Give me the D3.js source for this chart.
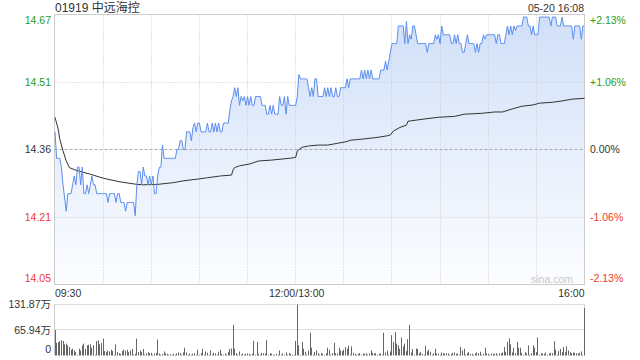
<!DOCTYPE html>
<html><head><meta charset="utf-8">
<script src="https://cdn.jsdelivr.net/npm/d3@7"></script>
<style>
body{margin:0;background:#fff}
svg{display:block}
text{font-family:"Liberation Sans",Arial,"Noto Sans CJK SC",sans-serif}
</style>
</head><body>
<svg id="c" width="640" height="360"></svg>
<script>
const titleText = "01919 中远海控";
const stampText = "05-20 16:08";
const watermark = "sina.com";
const prevClose = 14.36;
const pctRange = 2.13;
const priceTickLabels = ["14.67", "14.51", "14.36", "14.21", "14.05"];
const pctTickLabels = ["+2.13%", "+1.06%", "0.00%", "-1.06%", "-2.13%"];
const pctTickLevels = [2.13, 1.065, 0, -1.065, -2.13];
const timeLabels = ["09:30", "12:00/13:00", "16:00"];
const timeLabelMinutes = [0, 150, 330];
const gridMinutes = [30, 60, 90, 120, 150, 180, 210, 240, 270, 300];
const volTickLabels = ["131.87万", "65.94万", "0"];
const volTickValues = [131.87, 65.94, 0];

// last price per minute, 09:30 .. 16:00 (331 points)
const priceValues = [
14.40,14.34,14.34,14.34,14.32,14.28,14.25,14.22,14.26,14.26,
14.26,14.28,14.30,14.28,14.32,14.32,14.28,14.32,14.26,14.26,
14.28,14.26,14.28,14.30,14.28,14.28,14.26,14.26,14.26,14.26,
14.26,14.26,14.26,14.24,14.26,14.26,14.26,14.26,14.24,14.26,
14.26,14.24,14.24,14.24,14.22,14.24,14.24,14.24,14.24,14.24,
14.21,14.28,14.31,14.31,14.28,14.32,14.30,14.30,14.28,14.30,
14.28,14.30,14.26,14.26,14.30,14.32,14.32,14.37,14.34,14.34,
14.34,14.34,14.34,14.34,14.34,14.34,14.36,14.36,14.38,14.38,
14.36,14.36,14.40,14.40,14.40,14.38,14.41,14.42,14.40,14.42,
14.42,14.40,14.40,14.40,14.40,14.42,14.40,14.40,14.42,14.40,
14.42,14.40,14.42,14.40,14.40,14.42,14.42,14.42,14.42,14.45,
14.47,14.48,14.50,14.48,14.50,14.46,14.48,14.47,14.48,14.46,
14.48,14.46,14.48,14.46,14.46,14.48,14.48,14.48,14.48,14.46,
14.46,14.46,14.44,14.44,14.46,14.44,14.46,14.44,14.44,14.44,
14.48,14.46,14.46,14.48,14.44,14.48,14.46,14.46,14.46,14.46,
14.46,14.48,14.53,14.52,14.52,14.52,14.52,14.52,14.50,14.48,
14.50,14.48,14.52,14.52,14.48,14.48,14.48,14.48,14.50,14.48,
14.50,14.48,14.50,14.48,14.48,14.50,14.48,14.48,14.50,14.50,
14.50,14.50,14.52,14.50,14.52,14.52,14.52,14.52,14.52,14.52,
14.52,14.54,14.52,14.54,14.52,14.54,14.52,14.54,14.52,14.52,
14.52,14.52,14.52,14.54,14.54,14.54,14.56,14.54,14.56,14.58,
14.60,14.60,14.60,14.60,14.64,14.64,14.64,14.64,14.60,14.65,
14.60,14.62,14.61,14.64,14.64,14.62,14.60,14.60,14.60,14.60,
14.60,14.60,14.58,14.60,14.60,14.60,14.60,14.62,14.61,14.62,
14.60,14.64,14.62,14.62,14.62,14.62,14.62,14.60,14.60,14.62,
14.60,14.62,14.60,14.60,14.58,14.58,14.60,14.62,14.60,14.60,
14.60,14.60,14.58,14.60,14.58,14.60,14.60,14.62,14.61,14.62,
14.62,14.62,14.62,14.62,14.62,14.60,14.62,14.62,14.60,14.60,
14.60,14.62,14.64,14.62,14.64,14.62,14.64,14.63,14.64,14.64,
14.64,14.64,14.66,14.66,14.66,14.64,14.64,14.62,14.64,14.62,
14.62,14.62,14.66,14.66,14.66,14.66,14.66,14.66,14.66,14.64,
14.66,14.66,14.66,14.64,14.64,14.64,14.66,14.64,14.64,14.64,
14.64,14.64,14.64,14.61,14.64,14.64,14.64,14.64,14.61,14.64,
14.64
];

// average price line, read at these minutes
const avgMinutes = [0,2,3,5,7,9,13,22,30,40,51,55,64,74,80,89,95,103,110,111,112,115,121,127,135,146,150,151,154,158,164,170,176,182,184,190,200,207,209,211,215,219,220,222,230,239,249,255,266,274,279,285,291,298,302,310,316,322,330];
const avgValues = [14.433,14.406,14.383,14.357,14.334,14.319,14.313,14.304,14.295,14.287,14.281,14.280,14.281,14.285,14.289,14.293,14.296,14.300,14.302,14.314,14.319,14.323,14.327,14.334,14.336,14.340,14.342,14.357,14.365,14.368,14.370,14.370,14.374,14.378,14.381,14.383,14.387,14.391,14.393,14.402,14.410,14.415,14.424,14.425,14.429,14.433,14.435,14.440,14.442,14.445,14.445,14.452,14.458,14.461,14.465,14.467,14.470,14.474,14.476];

// volume per minute, 万 shares
const volumeValues = [
65.8,32.5,34,36.8,39.5,37.7,29,30.7,26.3,22,
15,17.5,13,8.8,2,17.5,13,26.3,30.7,16.7,
26.3,28,29,20,26.3,2,37.7,39.5,29,32.5,
43.9,11.4,8.8,13,10.5,15,11.4,2,29,8.8,
6,4.4,11.4,15,13,15,8.8,13,16.7,2,
4.4,43.9,8.8,13,8.8,16.7,2,6,8.8,6,
7,2,5.3,7,41.2,5.3,2,4.4,10.5,5.3,
4.4,2,3.5,2,4.4,2,5.3,7.9,6,2,
7.9,20,7.9,2,5.3,2,4.4,6,2,15,
2,6,17.5,2,10.5,7,2,13,2,7,
5.3,2,9.6,15,4.4,2,5.3,2,8.8,16.7,
18.4,79,17.5,6,2,10.5,2,5.3,2,4.4,
5.3,4.4,2,4.4,37.7,2,35.1,4.4,2,7,
6,5.3,39.5,2,6,4.4,2,2,4.4,2,
13,2,5.3,2,7.9,2,6,4.4,2,2,
37.7,131.87,26.3,2,35.1,17.5,9.6,2,13,58.8,
20,2,8.8,13,6,2,6,4.4,2,6,
20,15,2,6,32.5,6,5.3,20,13,11.4,
15,22,17.5,25.4,2,23.7,7,4.4,2,4.4,
6,2,5.3,4.4,6,2,5.3,13,7,5.3,
6,2,4.4,5.3,2,58.8,7.9,13,2,10.5,
52.6,35.1,60.5,30.7,26.3,17.5,46.5,23.7,30.7,11.4,
42.1,79,7.9,16.7,2,18.4,16.7,6,8.8,4.4,
2,25.4,10.5,15,9.6,2,6,17.5,5.3,4.4,
2,7.9,6,4.4,6,5.3,2,4.4,7,7.9,
4.4,5.3,2,22,13,17.5,2,6,8.8,4.4,
4.4,2,5.3,7.9,6,9.6,2,4.4,20,5.3,
4.4,2,5.3,4.4,4.4,6,2,6,5.3,7.9,
22,8.8,35.1,43.9,29,7.9,20,6,35.1,20,
20,7,2,8.8,5.3,26.3,2,6,26.3,20,
8.8,46.5,2,6,5.3,4.4,7.9,2,5.3,7,
6,36.8,15,2,11.4,16.7,8.8,22,8.8,23.7,
13,8.8,6,7.9,7,6,5.3,7,10.5,2,
122.8
];

const GREEN = "#1f9e1f", RED = "#f03a2e", NEUTRAL = "#333";
const svg = d3.select("#c");
const L = 54.5, R = 584.5, T = 14.5, B = 284.5;
const VT = 304.5, VB = 355.5;

const x = d3.scaleLinear().domain([0, 330]).range([55, 584.5]);
const y = d3.scaleLinear().domain([-pctRange, pctRange]).range([B, T]);
const pct = p => (p / prevClose - 1) * 100;
const yv = d3.scaleLinear().domain([0, d3.max(volTickValues)]).range([VB, VT]);
const px = v => Math.floor(v) + 0.5;

const defs = svg.append("defs");
const grad = defs.append("linearGradient").attr("id", "g").attr("gradientUnits", "userSpaceOnUse")
  .attr("x1", 0).attr("y1", T).attr("x2", 0).attr("y2", B);
grad.append("stop").attr("offset", 0).attr("stop-color", "#d0dff8");
grad.append("stop").attr("offset", 1).attr("stop-color", "#fcfdff");

// area under price
svg.append("path").datum(priceValues)
  .attr("d", d3.area().x((d, i) => x(i)).y0(B).y1(d => y(pct(d))))
  .attr("fill", "url(#g)");

// grid
const grid = svg.append("g");
grid.selectAll("line.v").data(gridMinutes).join("line")
  .attr("x1", d => px(x(d))).attr("x2", d => px(x(d))).attr("y1", T).attr("y2", B)
  .attr("stroke", "#c8c8c8").attr("stroke-dasharray", "1,2");
grid.selectAll("line.h").data(pctTickLevels.filter(l => Math.abs(l) > 0 && Math.abs(l) < pctRange)).join("line")
  .attr("x1", L).attr("x2", R).attr("y1", d => px(y(d))).attr("y2", d => px(y(d)))
  .attr("stroke", "#c8c8c8").attr("stroke-dasharray", "1,2");
grid.append("line").attr("x1", L).attr("x2", R).attr("y1", px(y(0))).attr("y2", px(y(0)))
  .attr("stroke", "#aaa").attr("stroke-dasharray", "3,2");

// border
svg.append("rect").attr("x", L).attr("y", T).attr("width", R - L).attr("height", B - T)
  .attr("fill", "none").attr("stroke", "#ccc");

// watermark
svg.append("text").attr("x", 573).attr("y", 282.5).attr("text-anchor", "end")
  .attr("font-size", "10.5px").attr("fill", "#c8c8c8").text(watermark);

// avg line
svg.append("path").datum(avgValues)
  .attr("d", d3.line().x((d, i) => x(avgMinutes[i])).y(d => y(pct(d))))
  .attr("fill", "none").attr("stroke", "#333").attr("stroke-width", 1);

// price line
svg.append("path").datum(priceValues)
  .attr("d", d3.line().x((d, i) => x(i)).y(d => y(pct(d))))
  .attr("fill", "none").attr("stroke", "#5b8ef0").attr("stroke-width", 1);

// left / right labels
const colorFor = l => l > 0 ? GREEN : (l < 0 ? RED : NEUTRAL);
const labY = l => Math.min(Math.max(y(l), 20), 278.5);
svg.selectAll("text.pl").data(pctTickLevels).join("text")
  .attr("x", 51).attr("y", d => labY(d)).attr("dy", "0.36em").attr("text-anchor", "end")
  .attr("font-size", "10.5px").attr("fill", colorFor).text((d, i) => priceTickLabels[i]);
svg.selectAll("text.pr").data(pctTickLevels).join("text")
  .attr("x", 590).attr("y", d => labY(d)).attr("dy", "0.36em").attr("text-anchor", "start")
  .attr("font-size", "10.5px").attr("fill", colorFor).text((d, i) => pctTickLabels[i]);

// time labels
const anchors = ["start", "middle", "end"];
svg.selectAll("text.t").data(timeLabelMinutes).join("text")
  .attr("x", (d, i) => i === 2 ? R : x(d) + (i === 1 ? 1 : 0)).attr("y", 297)
  .attr("text-anchor", (d, i) => anchors[i]).attr("font-size", "10.5px").attr("fill", NEUTRAL)
  .text((d, i) => timeLabels[i]);

// title and stamp
svg.append("text").attr("x", 55).attr("y", 12).attr("font-size", "12px").attr("fill", NEUTRAL).text(titleText);
svg.append("text").attr("x", 584).attr("y", 11.5).attr("text-anchor", "end").attr("font-size", "10.5px").attr("fill", NEUTRAL).text(stampText);

// volume panel
const vg = svg.append("g");
vg.selectAll("line.vh").data(volTickValues.filter(v => v > 0)).join("line")
  .attr("x1", L).attr("x2", R).attr("y1", d => px(yv(d))).attr("y2", d => px(yv(d)))
  .attr("stroke", "#bbb").attr("stroke-dasharray", "1,1");
vg.append("line").attr("x1", L).attr("x2", L).attr("y1", VT).attr("y2", VB).attr("stroke", "#ccc");
vg.append("line").attr("x1", R).attr("x2", R).attr("y1", VT).attr("y2", VB).attr("stroke", "#ccc");
vg.selectAll("line.bar").data(volumeValues).join("line")
  .attr("x1", (d, i) => px(x(i))).attr("x2", (d, i) => px(x(i)))
  .attr("y1", VB).attr("y2", d => yv(d))
  .attr("stroke", "#666").attr("stroke-width", 1);
svg.selectAll("text.vl").data(volTickValues).join("text")
  .attr("x", 51).attr("y", d => Math.min(yv(d), 349)).attr("dy", "0.36em").attr("text-anchor", "end")
  .attr("font-size", "10.5px").attr("fill", NEUTRAL).text((d, i) => volTickLabels[i]);
</script>
</body></html>
